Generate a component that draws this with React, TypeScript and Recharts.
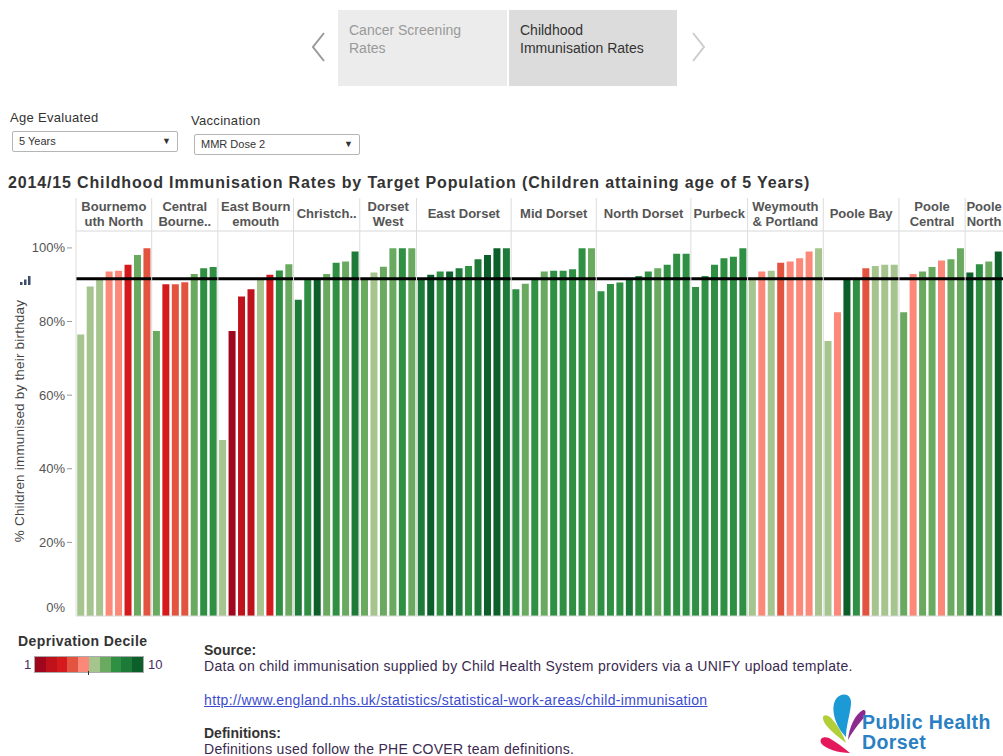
import React from 'react'
import { BarChart, Bar, XAxis, YAxis, Cell, ReferenceLine } from 'recharts'

const HEADER_LINES = [
  ['Bournemo', 'uth North'],
  ['Central', 'Bourne..'],
  ['East Bourn', 'emouth'],
  ['Christch..'],
  ['Dorset', 'West'],
  ['East Dorset'],
  ['Mid Dorset'],
  ['North Dorset'],
  ['Purbeck'],
  ['Weymouth', '& Portland'],
  ['Poole Bay'],
  ['Poole', 'Central'],
  ['Poole', 'North'],
]

// % immunised per GP practice, grouped by locality
const RATES = [
  [76.5, 89.5, 91.3, 93.6, 93.8, 95.4, 98.1, 99.9],
  [77.4, 90.1, 90.1, 90.7, 92.9, 94.5, 94.8],
  [47.8, 77.4, 86.8, 88.8, 91.3, 92.7, 93.9, 95.6],
  [85.9, 91.3, 91.3, 92.9, 96.0, 96.3, 99.0],
  [91.3, 93.3, 94.9, 99.9, 99.9, 99.9],
  [91.3, 92.7, 93.6, 93.6, 94.5, 95.1, 96.9, 98.1, 99.9, 99.9],
  [88.8, 90.3, 91.3, 93.6, 93.8, 93.8, 94.2, 99.9, 99.9],
  [88.2, 90.2, 90.6, 91.3, 92.4, 93.6, 94.5, 95.4, 98.4, 98.4],
  [89.4, 92.4, 95.4, 97.2, 97.6, 99.9],
  [91.3, 93.6, 93.8, 96.0, 96.3, 97.2, 99.0, 99.9],
  [74.7, 82.5, 91.3, 91.3, 94.5, 95.1, 95.4, 95.4],
  [82.5, 92.9, 93.6, 94.8, 96.6, 96.9, 99.9],
  [93.3, 95.6, 96.3, 99.0],
]

const DECILES = [
  [6, 6, 6, 5, 5, 3, 7, 4],
  [7, 3, 4, 4, 7, 8, 8],
  [6, 1, 2, 2, 6, 3, 8, 7],
  [9, 8, 10, 7, 8, 7, 9],
  [7, 6, 7, 7, 8, 7],
  [9, 10, 8, 10, 9, 8, 9, 10, 10, 9],
  [8, 7, 8, 7, 8, 8, 8, 8, 7],
  [8, 8, 8, 9, 8, 8, 7, 8, 8, 8],
  [8, 8, 8, 8, 8, 8],
  [6, 5, 6, 4, 5, 5, 5, 6],
  [6, 5, 10, 8, 4, 6, 6, 6],
  [7, 5, 7, 7, 5, 7, 7],
  [10, 8, 7, 10],
]

const TARGET = 91.6
const Y_TICKS = [0, 20, 40, 60, 80, 100]

const DECILE_COLORS = [
  '#a0061e', '#c0121a', '#d41a1c', '#e2543f', '#fb8878',
  '#a5c48e', '#6aaa60', '#2f8f43', '#1e7a38', '#0c5f2b',
]

const FONT = '"Liberation Sans", Arial, sans-serif'

const CHART_W = 1003
const CHART_H = 424
const Y_W = 76
const HEADER_H = 35

const data: any[] = []
RATES.forEach((rates, g) => {
  rates.forEach((rate, i) => {
    data.push({
      id: `${g}-${i}`,
      g,
      rate,
      decile: DECILES[g][i],
      first: i === 0,
      size: rates.length,
    })
  })
})

const BAND = (CHART_W - Y_W) / data.length

function HeaderTick(props: any) {
  const { x, payload } = props
  const d = data[payload.index]
  if (!d || !d.first) return null
  const left = x - BAND / 2
  const center = left + (d.size * BAND) / 2
  const lines = HEADER_LINES[d.g]
  return (
    <g>
      <line x1={left} x2={left} y1={2} y2={CHART_H - 4} stroke="#dcdcdc" />
      <text textAnchor="middle" fontFamily={FONT} fontWeight="bold" fontSize={13} fill="#555">
        {lines.length === 1 ? (
          <tspan x={center} y={22}>{lines[0]}</tspan>
        ) : (
          lines.map((l, i) => (
            <tspan key={i} x={center} y={15 + i * 15}>{l}</tspan>
          ))
        )}
      </text>
    </g>
  )
}

function PctTick(props: any) {
  const { y, payload } = props
  const v = payload.value
  const ty = v === 0 ? y - 9 : y
  return (
    <g>
      {v !== 0 && <line x1={67} x2={72} y1={y} y2={y} stroke="#999" />}
      <text x={65} y={ty} dy={4.5} textAnchor="end" fontFamily={FONT} fontSize={13} fill="#555">
        {v}%
      </text>
    </g>
  )
}

function Logo() {
  return (
    <svg width={188} height={66} style={{ position: 'absolute', left: 815, top: 690 }}>
      <path d="M31,47 C20,36 15,18 21,9 C26,2 37,3 36,14 C35,25 31,36 31,47 Z" fill="#1b9ad6" />
      <path d="M33,50 C34,38 40,24 48,20 C52,19 51,26 47,30 C41,37 36,44 33,50 Z" fill="#8b2b8f" />
      <path d="M31,53 C22,46 9,36 8,29 C7,24 13,24 17,29 C23,36 28,44 31,53 Z" fill="#b2cf3a" />
      <path d="M35,63 C24,63 10,59 6,53 C4,48 9,46 14,48 C21,52 28,57 35,63 Z" fill="#e5185b" />
      <text fontFamily={FONT} fontWeight="bold" fontSize={19.5} fill="#2b7fc3" letterSpacing={0.4}>
        <tspan x={47} y={39}>Public Health</tspan>
        <tspan x={47} y={59}>Dorset</tspan>
      </text>
    </svg>
  )
}

function Dropdown({ left, top, label }: { left: number; top: number; label: string }) {
  return (
    <div
      style={{
        position: 'absolute', left, top, width: 164, height: 19,
        border: '1px solid #b5b5b5', borderRadius: 2, background: '#fff',
        fontSize: 11, color: '#333', lineHeight: '19px',
      }}
    >
      <span style={{ position: 'absolute', left: 6 }}>{label}</span>
      <span style={{ position: 'absolute', right: 6, fontSize: 9 }}>▼</span>
    </div>
  )
}

export default function App() {
  const txt = (left: number, top: number, s: React.CSSProperties = {}) =>
    ({ position: 'absolute', left, top, whiteSpace: 'nowrap', ...s }) as React.CSSProperties

  return (
    <div
      style={{
        position: 'absolute', left: 0, top: 0, width: 1003, height: 756,
        overflow: 'hidden', background: '#fff', fontFamily: FONT, color: '#333',
      }}
    >
      {/* navigation */}
      <svg width={20} height={34} style={{ position: 'absolute', left: 309, top: 31 }}>
        <polyline points="15,2 4,16 15,30" fill="none" stroke="#999" strokeWidth={2} />
      </svg>
      <div style={{ position: 'absolute', left: 338, top: 10, width: 169, height: 76, background: '#ececec' }} />
      <div style={{ position: 'absolute', left: 509, top: 10, width: 168, height: 76, background: '#dcdcdc' }} />
      <div style={txt(349, 21, { fontSize: 14, color: '#999', lineHeight: '18px' })}>
        Cancer Screening<br />Rates
      </div>
      <div style={txt(520, 21, { fontSize: 14, color: '#333', lineHeight: '18px' })}>
        Childhood<br />Immunisation Rates
      </div>
      <svg width={20} height={34} style={{ position: 'absolute', left: 689, top: 31 }}>
        <polyline points="4,2 15,16 4,30" fill="none" stroke="#ccc" strokeWidth={2} />
      </svg>

      {/* filters */}
      <div style={txt(10, 110, { fontSize: 13, letterSpacing: 0.3 })}>Age Evaluated</div>
      <Dropdown left={12} top={131} label="5 Years" />
      <div style={txt(191, 113, { fontSize: 13, letterSpacing: 0.3 })}>Vaccination</div>
      <Dropdown left={194} top={134} label="MMR Dose 2" />

      {/* title */}
      <div style={txt(8, 174, { fontSize: 16, fontWeight: 'bold', color: '#333', letterSpacing: 0.85 })}>
        2014/15 Childhood Immunisation Rates by Target Population (Children attaining age of 5 Years)
      </div>

      {/* y axis title */}
      <div
        style={{
          position: 'absolute', left: 19, top: 421, whiteSpace: 'nowrap',
          transform: 'translate(-50%, -50%) rotate(-90deg)', fontSize: 13.5, color: '#444',
          letterSpacing: 0.2,
        }}
      >
        % Children immunised by their birthday
      </div>
      <svg width={14} height={10} style={{ position: 'absolute', left: 19, top: 276 }}>
        <rect x={1} y={6} width={2.5} height={3} fill="#3b4e6b" />
        <rect x={5} y={3.5} width={2.5} height={5.5} fill="#3b4e6b" />
        <rect x={9} y={0} width={2.5} height={9} fill="#3b4e6b" />
      </svg>

      {/* chart */}
      <div style={{ position: 'absolute', left: 0, top: 196 }}>
        <BarChart
          width={CHART_W}
          height={CHART_H}
          data={data}
          margin={{ top: 0, right: 0, bottom: 0, left: 0 }}
          barCategoryGap="13%"
        >
          <XAxis xAxisId={0} dataKey="id" height={4} tick={false} tickLine={false} axisLine={{ stroke: '#d8d8d8' }} />
          <XAxis
            xAxisId="top"
            orientation="top"
            dataKey="id"
            height={HEADER_H}
            interval={0}
            tickLine={false}
            axisLine={{ stroke: '#d8d8d8' }}
            tick={<HeaderTick />}
          />
          <YAxis
            width={Y_W}
            domain={[0, 104.6]}
            ticks={Y_TICKS}
            interval={0}
            allowDataOverflow
            tickLine={false}
            axisLine={false}
            tick={<PctTick />}
          />
          <Bar dataKey="rate" isAnimationActive={false}>
            {data.map((d) => (
              <Cell key={d.id} fill={DECILE_COLORS[d.decile - 1]} />
            ))}
          </Bar>
          <ReferenceLine y={TARGET} stroke="#000" strokeWidth={3} />
        </BarChart>
      </div>

      {/* legend */}
      <div style={txt(18, 633, { fontSize: 14, fontWeight: 'bold', letterSpacing: 0.4 })}>Deprivation Decile</div>
      <div style={txt(24, 657, { fontSize: 13, color: '#4b2a66' })}>1</div>
      <div
        style={{
          position: 'absolute', left: 34, top: 656, width: 108, height: 15,
          border: '1px solid #aaa', display: 'flex',
        }}
      >
        {DECILE_COLORS.map((c) => (
          <div key={c} style={{ flex: 1, background: c }} />
        ))}
      </div>
      <div style={{ position: 'absolute', left: 88, top: 671, width: 1, height: 4, background: '#333' }} />
      <div style={txt(148, 657, { fontSize: 13, color: '#4b2a66' })}>10</div>

      {/* source */}
      <div style={txt(204, 642, { fontSize: 14, fontWeight: 'bold' })}>Source:</div>
      <div style={txt(204, 658, { fontSize: 14, color: '#3a2a50', letterSpacing: 0.28 })}>
        Data on child immunisation supplied by Child Health System providers via a UNIFY upload template.
      </div>
      <div style={txt(204, 692, { fontSize: 14, color: '#3b4bd0', textDecoration: 'underline', letterSpacing: 0.35 })}>
        http://www.england.nhs.uk/statistics/statistical-work-areas/child-immunisation
      </div>
      <div style={txt(204, 725, { fontSize: 14, fontWeight: 'bold' })}>Definitions:</div>
      <div style={txt(204, 741, { fontSize: 14, color: '#3a2a50', letterSpacing: 0.28 })}>
        Definitions used follow the PHE COVER team definitions.
      </div>

      <Logo />
    </div>
  )
}
